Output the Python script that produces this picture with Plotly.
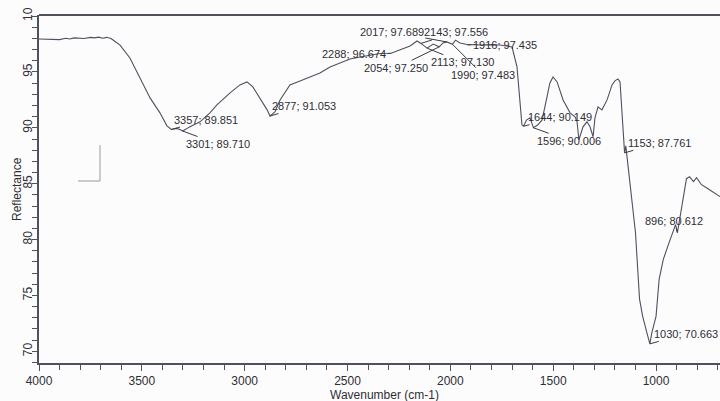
import plotly.graph_objects as go

wavenumber = [4000, 3960, 3930, 3900, 3870, 3850, 3830, 3800, 3780, 3750, 3730, 3710, 3690, 3670, 3650, 3640,
              3606, 3558, 3509, 3460, 3412, 3378, 3357, 3330, 3310, 3301, 3280, 3266, 3217, 3169, 3135, 3071,
              3023, 2989, 2960, 2926, 2891, 2877, 2853, 2828, 2780, 2731, 2682, 2634, 2585, 2537, 2488, 2439,
              2391, 2342, 2288, 2250, 2230, 2196, 2162, 2143, 2113, 2084, 2054, 2036, 2017, 1990, 1975, 1953,
              1930, 1916, 1880, 1856, 1800, 1759, 1720, 1700, 1676, 1661, 1652, 1644, 1630, 1613, 1596, 1574,
              1554, 1530, 1516, 1501, 1481, 1452, 1418, 1394, 1384, 1375, 1355, 1336, 1321, 1306, 1297, 1282,
              1263, 1238, 1214, 1200, 1185, 1175, 1165, 1160, 1153, 1147, 1130, 1118, 1100, 1080, 1065, 1045,
              1030, 1020, 1000, 985, 965, 940, 905, 896, 881, 866, 852, 837, 818, 803, 779, 755, 721, 689]
reflectance = [97.95, 97.93, 97.98, 97.90, 98.02, 97.95, 98.05, 97.98, 98.00, 98.10, 98.05, 98.12, 98.02, 98.10, 98.00, 97.86,
               97.40, 96.25, 94.46, 92.68, 91.34, 90.18, 89.851, 89.95, 89.80, 89.710, 89.95, 90.10, 90.54, 91.34, 92.05, 93.13,
               93.84, 94.11, 93.66, 92.68, 91.61, 91.053, 91.43, 92.50, 93.84, 94.20, 94.55, 94.91, 95.45, 95.80, 96.16, 96.34,
               96.52, 96.65, 96.674, 96.95, 97.14, 97.32, 97.77, 97.556, 97.130, 97.50, 97.250, 97.60, 97.689, 97.483, 97.85, 97.59,
               97.50, 97.435, 97.45, 97.41, 97.45, 97.41, 97.30, 97.23, 95.45, 92.50, 90.27, 90.149, 90.70, 90.89, 90.006, 90.27,
               90.71, 92.77, 94.02, 94.55, 94.11, 92.50, 91.34, 90.98, 90.54, 88.93, 90.09, 90.54, 90.09, 89.20, 90.89, 91.88,
               91.61, 92.50, 93.84, 94.20, 94.38, 94.11, 90.98, 88.93, 87.761, 88.39, 85.63, 83.57, 80.63, 74.64, 73.13, 71.70,
               70.663, 71.70, 73.13, 76.43, 78.21, 79.55, 81.34, 80.612, 82.23, 84.02, 85.45, 85.63, 85.18, 85.54, 84.91, 84.64, 84.20, 83.84]

# labelled peaks: wavenumber, value, label offset (pixels)
peak_wn = [3357, 3301, 2877, 2288, 2017, 2054, 2143, 2113, 1916, 1990, 1644, 1596, 1153, 896, 1030]
peak_val = [89.851, 89.710, 91.053, 96.674, 97.689, 97.250, 97.556, 97.130, 97.435, 97.483, 90.149, 90.006, 87.761, 80.612, 70.663]
label_dx = [35, 35, 34, -37, -55, -43, 35, 35, 37, 31, 36, 36, 35, -3, 36]
label_dy = [-10, 13, -10, 1, -10, 21, -11, 14, 0, 31, -9, 13, -10, -12, -10]

y_tickvals = [70, 75, 80, 85, 90, 95, 100]
y_ticktext = ["70", "75", "80", "85", "90", "95", "10"]
x_tickvals = [4000, 3500, 3000, 2500, 2000, 1500, 1000]

line_col = "#4f5060"
axis_col = "#50505e"
text_col = "#2e2e36"

fig = go.Figure()
fig.add_trace(go.Scatter(x=wavenumber, y=reflectance, mode="lines",
                         line=dict(color=line_col, width=1.1), hoverinfo="skip", showlegend=False))

for w, v, dx, dy in zip(peak_wn, peak_val, label_dx, label_dy):
    fig.add_annotation(x=w, y=v, xref="x", yref="y", text=f"{w}; {v:.3f}",
                       showarrow=True, arrowhead=0, arrowwidth=1, arrowcolor="#3a3a44",
                       ax=dx, ay=dy, standoff=0, startstandoff=0,
                       font=dict(family="Arial, Liberation Sans", size=11, color=text_col))

# axis titles
fig.add_annotation(text="Wavenumber (cm-1)", xref="paper", yref="paper", x=0.507, y=0,
                   yshift=-32, xanchor="center", yanchor="middle", showarrow=False,
                   font=dict(size=12, color=text_col))
fig.add_annotation(text="Reflectance", xref="paper", yref="paper", x=0, y=0.5,
                   xshift=-22, xanchor="center", yanchor="middle", textangle=-90, showarrow=False,
                   font=dict(size=12, color=text_col))

# top frame line
fig.add_shape(type="line", xref="paper", yref="paper", x0=0, x1=1, y0=1, y1=1,
              line=dict(color=axis_col, width=2))
# cursor artifact
fig.add_shape(type="line", xref="paper", yref="paper", x0=0.0896, x1=0.0896, y0=0.523, y1=0.626,
              line=dict(color="#9a9a9a", width=1))
fig.add_shape(type="line", xref="paper", yref="paper", x0=0.0573, x1=0.0896, y0=0.523, y1=0.523,
              line=dict(color="#9a9a9a", width=1))

fig.update_layout(
    width=720, height=401,
    margin=dict(l=39, r=0, t=15, b=38, autoexpand=False),
    paper_bgcolor="#fdfcfc", plot_bgcolor="#fdfcfc",
    font=dict(family="Arial, Liberation Sans", size=12, color=text_col),
    showlegend=False,
)
fig.update_xaxes(
    range=[4000, 689], autorange=False, automargin=False,
    tickvals=x_tickvals, ticks="outside", ticklen=6, tickwidth=1.2, tickcolor=axis_col,
    minor=dict(dtick=100, ticks="outside", ticklen=5, tickwidth=1.2, tickcolor=axis_col),
    showline=True, linecolor=axis_col, linewidth=2, showgrid=False, zeroline=False,
    tickfont=dict(size=12),
)
fig.update_yaxes(
    range=[68.95, 100.1], autorange=False, automargin=False,
    tickvals=y_tickvals, ticktext=y_ticktext, tickangle=-90, ticklabelstandoff=-5,
    ticks="outside", ticklen=5, tickwidth=1.2, tickcolor=axis_col,
    minor=dict(dtick=1, ticks="outside", ticklen=5, tickwidth=1.2, tickcolor=axis_col),
    showline=True, linecolor=axis_col, linewidth=2, showgrid=False, zeroline=False,
    tickfont=dict(size=12),
)

fig.write_html("out.html", config={"displayModeBar": False},
               post_script="document.body.style.margin='0';document.body.style.overflow='hidden';")
